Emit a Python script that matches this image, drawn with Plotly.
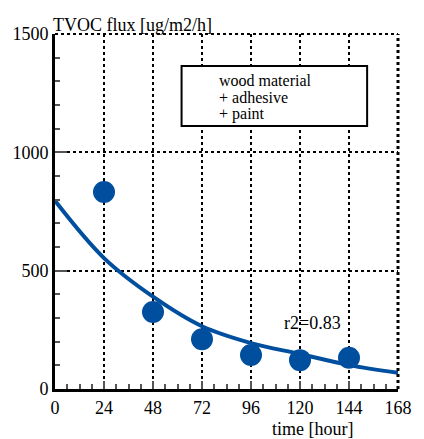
import plotly.graph_objects as go

# measured data (time [hour], TVOC flux [ug/m2/h])
time_h = [24, 48, 72, 96, 120, 144]
flux = [832, 325, 210, 144, 122, 132]

# fitted curve
fit_t = [0, 24, 48, 72, 96, 120, 144, 168]
fit_v = [795, 553, 390, 265, 194, 148, 101, 69]

x_ticks = [0, 24, 48, 72, 96, 120, 144, 168]
y_ticks = [0, 500, 1000, 1500]

legend_lines = ["wood material", "+ adhesive", "+ paint"]

BLUE = "#004f9f"
FONT = "Liberation Serif"

fig = go.Figure()
fig.add_trace(go.Scatter(x=fit_t, y=fit_v, mode="lines", line=dict(color=BLUE, width=4, shape="spline"),
                         hoverinfo="skip", showlegend=False))
fig.add_trace(go.Scatter(x=time_h, y=flux, mode="markers", marker=dict(color=BLUE, size=22, line=dict(width=0)),
                         showlegend=False))

axis_common = dict(
    showgrid=True, gridcolor="black", griddash="dot", gridwidth=1.5,
    showline=True, linecolor="black", linewidth=3,
    ticks="inside", tickcolor="#555", tickwidth=1.5,
    tickfont=dict(family=FONT, size=18, color="black"),
    zeroline=False,
)

fig.update_xaxes(range=[0, 168], tickvals=x_ticks, ticklen=8,
                 minor=dict(dtick=6, ticks="inside", ticklen=5, tickcolor="#555", tickwidth=1.5, showgrid=False),
                 **axis_common)
fig.update_yaxes(range=[0, 1500], tickvals=y_ticks, ticklen=12,
                 minor=dict(dtick=100, ticks="inside", ticklen=5, tickcolor="#555", tickwidth=1.5, showgrid=False),
                 **axis_common)

shapes = [
    dict(type="line", xref="x domain", yref="y domain", x0=0, x1=1, y0=1, y1=1,
         line=dict(color="black", width=2, dash="dot")),
    dict(type="line", xref="x domain", yref="y domain", x0=1, x1=1, y0=0, y1=1,
         line=dict(color="black", width=3, dash="dot")),
    dict(type="rect", xref="x domain", yref="y domain", x0=0.369, x1=0.910, y0=0.741, y1=0.910,
         line=dict(color="black", width=2), fillcolor="white", layer="above"),
]

annotations = [
    dict(text="TVOC flux [ug/m2/h]", xref="paper", yref="paper", x=0, y=1, xanchor="left", yanchor="bottom",
         yshift=-3, xshift=-4, showarrow=False, font=dict(family=FONT, size=18, color="black")),
    dict(text="r2=0.83", xref="x domain", yref="y domain", x=0.752, y=0.187, xanchor="center", yanchor="middle",
         showarrow=False, font=dict(family=FONT, size=18, color="black")),
    dict(text="time [hour]", xref="x domain", yref="y domain", x=0.752, y=0, xanchor="center", yanchor="middle",
         yshift=-40, showarrow=False, font=dict(family=FONT, size=18, color="black")),
]
for i, line in enumerate(legend_lines):
    annotations.append(dict(text=line, xref="x domain", yref="y domain", x=0.471, y=0.870 - i * 0.0475,
                            xanchor="left", yanchor="middle", showarrow=False,
                            font=dict(family=FONT, size=16, color="black")))

fig.update_layout(
    width=424, height=439,
    margin=dict(l=51, r=18, t=34, b=50),
    paper_bgcolor="white", plot_bgcolor="white",
    shapes=shapes, annotations=annotations,
    showlegend=False,
)

fig.write_html("out.html")
